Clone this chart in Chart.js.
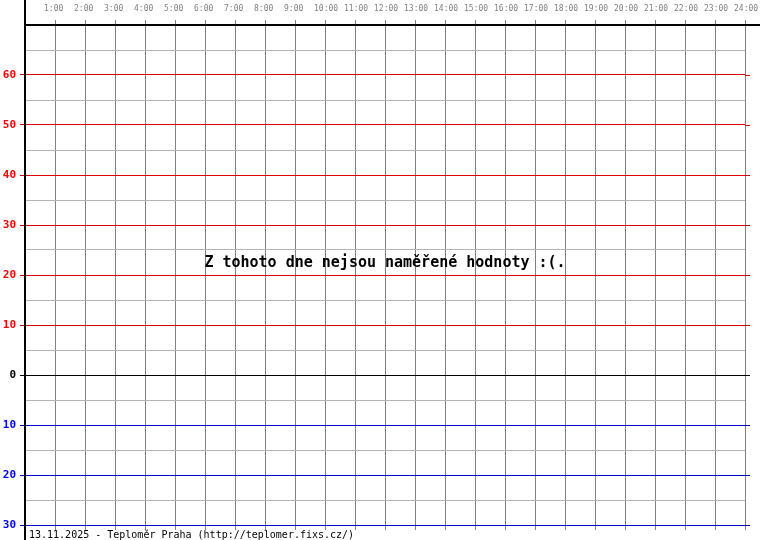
<!DOCTYPE html>
<html>
<head>
<meta charset="utf-8">
<title>Teploměr Praha</title>
<script src="https://cdn.jsdelivr.net/npm/chart.js@4"></script>
<style>
  html, body { margin: 0; padding: 0; background: #fff; }
  canvas { display: block; }
</style>
</head>
<body>
<canvas id="teplomer" width="760" height="540"></canvas>
<script>
// hodiny na horní ose
const hourLabels = ['1:00', '2:00', '3:00', '4:00', '5:00', '6:00', '7:00', '8:00',
  '9:00', '10:00', '11:00', '12:00', '13:00', '14:00', '15:00', '16:00',
  '17:00', '18:00', '19:00', '20:00', '21:00', '22:00', '23:00', '24:00'];

// popsané teploty (záporné se píšou modře a bez mínusu)
const tempTicks = [60, 50, 40, 30, 20, 10, 0, -10, -20, -30];
const tempMin = -30;
const tempMax = 70;

// naměřené hodnoty za den - pro 13.11.2025 nic není
const temperatures = [];

const dayText = '13.11.2025 - Teploměr Praha (http://teplomer.fixs.cz/)';
const emptyText = 'Z tohoto dne nejsou naměřené hodnoty :(.';

const MONO = '"DejaVu Sans Mono", monospace';

const lineColor = v => v > 0 ? '#d80000' : (v < 0 ? '#0000cc' : '#000000');
const labelColor = v => v > 0 ? '#ff0000' : (v < 0 ? '#0000ff' : '#000000');
const isMajor = v => tempTicks.includes(v);

const frame = {
    id: 'frame',
    afterDraw(chart) {
        const { ctx, width, height } = chart;
        const x = chart.scales.x;
        const y = chart.scales.y;
        const left = Math.round(x.getPixelForValue(0));
        const right = Math.round(x.getPixelForValue(24));
        const top = Math.round(y.getPixelForValue(tempMax));
        const bottom = Math.round(y.getPixelForValue(tempMin));

        ctx.save();
        ctx.lineWidth = 1;

        // hlavní vodorovné čáry přesahují o kousek doprava
        tempTicks.forEach(v => {
            const py = Math.round(y.getPixelForValue(v)) + 0.5;
            ctx.strokeStyle = lineColor(v);
            ctx.beginPath();
            ctx.moveTo(right, py);
            ctx.lineTo(right + 5, py);
            ctx.stroke();
        });

        // hodinové čáry přesahují pod spodní čáru
        ctx.strokeStyle = '#808080';
        hourLabels.forEach((_, i) => {
            const px = Math.round(x.getPixelForValue(i + 1)) + 0.5;
            ctx.beginPath();
            ctx.moveTo(px, bottom + 1);
            ctx.lineTo(px, bottom + 5);
            ctx.stroke();
        });

        // osy
        ctx.fillStyle = '#000';
        ctx.fillRect(left - 1, 0, 2, height);
        ctx.fillRect(left - 1, top - 1, width - left + 1, 2);

        // texty
        ctx.font = 'bold 15px ' + MONO;
        ctx.textAlign = 'center';
        ctx.textBaseline = 'alphabetic';
        if (temperatures.length === 0) {
            ctx.fillText(emptyText, (left + right) / 2, 267);
        }
        ctx.font = '10px ' + MONO;
        ctx.textAlign = 'left';
        ctx.fillText(dayText, left + 4, 538);
        ctx.restore();
    }
};

new Chart(document.getElementById('teplomer'), {
    type: 'line',
    data: {
        datasets: [{
            label: 'Teplota',
            data: temperatures,
            borderColor: '#000',
            pointRadius: 0
        }]
    },
    options: {
        responsive: false,
        animation: false,
        events: [],
        layout: { padding: { left: 0, top: 0, right: 15, bottom: 15 } },
        plugins: {
            legend: { display: false },
            tooltip: { enabled: false }
        },
        scales: {
            x: {
                type: 'linear',
                position: 'top',
                min: 0,
                max: 24,
                border: { display: false },
                grid: {
                    color: ctx => ctx.tick && ctx.tick.value === 0 ? 'rgba(0,0,0,0)' : '#808080',
                    tickLength: 5
                },
                ticks: {
                    stepSize: 1,
                    autoSkip: false,
                    maxRotation: 0,
                    align: 'start',
                    labelOffset: -11,
                    padding: 6,
                    color: '#808080',
                    font: { family: MONO, size: 8 },
                    callback: v => v === 0 ? '' : hourLabels[v - 1]
                },
                afterFit: s => {
                    s.height = 25;
                    s.paddingLeft = 0;
                    s.paddingRight = 0;
                }
            },
            y: {
                type: 'linear',
                min: tempMin,
                max: tempMax,
                border: { display: false },
                grid: {
                    color: ctx => isMajor(ctx.tick.value) ? lineColor(ctx.tick.value) : '#b4b4b4',
                    tickColor: ctx => isMajor(ctx.tick.value) ? lineColor(ctx.tick.value) : 'rgba(0,0,0,0)',
                    tickLength: 5
                },
                ticks: {
                    stepSize: 5,
                    autoSkip: false,
                    padding: 4,
                    color: ctx => labelColor(ctx.tick.value),
                    font: { family: MONO, size: 11, weight: 'bold' },
                    callback: v => isMajor(v) ? String(Math.abs(v)) : ''
                },
                afterFit: s => {
                    s.width = 25;
                    s.paddingTop = 0;
                    s.paddingBottom = 0;
                }
            }
        }
    },
    plugins: [frame]
});
</script>
</body>
</html>
